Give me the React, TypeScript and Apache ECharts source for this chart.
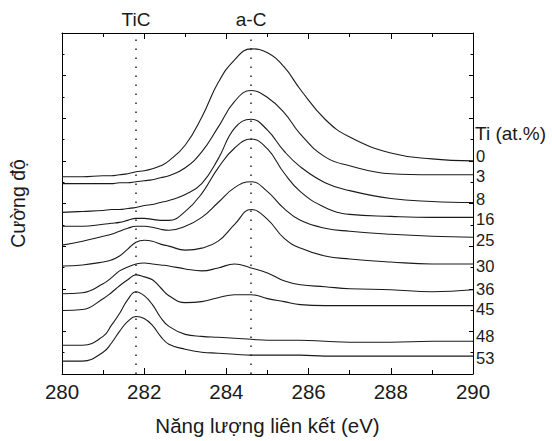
import React, { useEffect, useRef } from 'react';
import * as echarts from 'echarts';

// Binding energy grid (eV)
const energy = [280, 280.5, 281, 281.2, 281.4, 281.6, 281.8, 282.0, 282.2, 282.4, 282.6, 283, 283.4, 283.8, 284.2, 284.6, 285, 285.4, 285.8, 286.4, 287, 288, 289, 290];

// Ti content labels (at.%)
const tiLabels = ['0', '3', '8', '16', '25', '30', '36', '45', '48', '53'];

// Offset-stacked intensities (a.u.)
const ti0 = [199, 199, 200, 200, 201, 202, 204, 205, 207, 210, 215, 231, 259, 294, 317, 328, 324, 310, 287, 257, 239, 223, 217, 215];
const ti3 = [192, 192, 192, 192, 193, 193, 194, 195, 196, 198, 200, 208, 224, 249, 275, 286, 279, 264, 242, 219, 210, 202, 201, 201];
const ti8 = [163, 164, 165, 166, 166, 167, 168, 170, 171, 173, 175, 181, 192, 217, 248, 257, 246, 225, 209, 193, 185, 177, 174, 173];
const ti16 = [149, 149, 151, 152, 153, 155, 157, 157, 156, 155, 155, 164, 182, 208, 228, 237, 227, 203, 184, 168, 161, 159, 158, 158];
const ti25 = [130, 134, 139, 141, 144, 147, 149, 149, 148, 146, 145, 149, 158, 173, 188, 194, 184, 167, 155, 147, 144, 141, 139, 138];
const ti30 = [109, 110, 113, 115, 119, 126, 133, 135, 134, 131, 129, 125, 127, 134, 151, 166, 156, 137, 127, 119, 116, 113, 111, 111];
const ti36 = [81, 82, 91, 97, 104, 108, 111, 112, 111, 110, 109, 106, 104, 107, 111, 107, 102, 94, 90, 88, 86, 85, 83, 85];
const ti45 = [64, 65, 76, 82, 89, 95, 100, 98, 95, 87, 79, 72, 73, 77, 80, 80, 76, 73, 70, 69, 69, 69, 69, 69];
const ti48 = [29, 29, 38, 49, 61, 75, 83, 79, 70, 57, 48, 40, 38, 37, 36, 35, 34, 34, 34, 33, 32, 32, 33, 33];
const ti53 = [13, 13, 22, 31, 43, 53, 58, 56, 49, 38, 30, 25, 22, 21, 20, 19, 19, 19, 19, 18, 18, 18, 18, 18];

const curves = [ti0, ti3, ti8, ti16, ti25, ti30, ti36, ti45, ti48, ti53];

// Reference peak positions
const peakNames = ['TiC', 'a-C'];
const peakEnergies = [281.8, 284.6];

// small vertical nudges of the right-hand labels (px)
const labelNudge = [-4.5, 1.5, -4, 2, 3, 2, -1, 3, -5, 2];

export default function App() {
  const ref = useRef<HTMLDivElement>(null);
  useEffect(() => {
    document.body.style.margin = '0';
    const chart = echarts.init(ref.current!, null, { renderer: 'svg' });
    const font = '"Liberation Sans", Arial, sans-serif';
    const ink = '#1a1a1a';
    const axisCommon = {
      type: 'value' as const,
      axisLine: { show: true, onZero: false, lineStyle: { color: '#000', width: 1 } },
      splitLine: { show: false },
    };
    const series: any[] = curves.map((vals, i) => ({
      type: 'line',
      name: tiLabels[i],
      data: energy.map((e, j) => [e, vals[j]]),
      smooth: 0.45,
      symbol: 'none',
      silent: true,
      lineStyle: { color: ink, width: 1.1 },
      endLabel: {
        show: true,
        formatter: tiLabels[i],
        fontSize: 16.5,
        lineHeight: 14,
        color: ink,
        fontFamily: font,
        distance: 3,
        offset: [0, labelNudge[i]],
      },
      markLine:
        i === 0
          ? {
              symbol: 'none',
              silent: true,
              lineStyle: { type: [1.5, 7.5], color: '#222', width: 1.5 },
              label: {
                show: true,
                position: 'end',
                formatter: (p: any) => p.name,
                fontSize: 19,
                color: ink,
                fontFamily: font,
                distance: 4,
              },
              data: peakEnergies.map((x, k) => ({ xAxis: x, name: peakNames[k] })),
            }
          : undefined,
    }));

    chart.setOption({
      animation: false,
      grid: { left: 62, right: 79, top: 33, bottom: 64 },
      textStyle: { fontFamily: font },
      xAxis: [
        {
          ...axisCommon,
          position: 'bottom',
          min: 280,
          max: 290,
          interval: 2,
          axisTick: { show: true, inside: true, length: 6, lineStyle: { color: '#000' } },
          minorTick: { show: true, splitNumber: 2, length: 4, lineStyle: { color: '#000' } },
          axisLabel: { fontSize: 20.5, color: ink, margin: 7, fontFamily: font },
          name: 'Năng lượng liên kết (eV)',
          nameLocation: 'middle',
          nameGap: 41,
          nameTextStyle: { fontSize: 20.5, color: ink, fontFamily: font },
        },
        {
          ...axisCommon,
          position: 'top',
          min: 280,
          max: 290,
          interval: 2,
          axisTick: { show: true, inside: true, length: 6, lineStyle: { color: '#000' } },
          minorTick: { show: true, splitNumber: 2, length: 4, lineStyle: { color: '#000' } },
          axisLabel: { show: false },
        },
      ],
      yAxis: [
        {
          ...axisCommon,
          position: 'left',
          min: 0,
          max: 344,
          interval: 43,
          axisTick: { show: true, inside: true, length: 4, lineStyle: { color: '#000' } },
          minorTick: { show: true, splitNumber: 2, length: 2.5, lineStyle: { color: '#000' } },
          axisLabel: { show: false },
          name: 'Cường độ',
          nameLocation: 'middle',
          nameGap: 34,
          nameRotate: 90,
          nameTextStyle: { fontSize: 19.5, color: ink, fontFamily: font },
        },
        {
          ...axisCommon,
          position: 'right',
          min: 0,
          max: 344,
          interval: 43,
          axisTick: { show: true, inside: true, length: 4, lineStyle: { color: '#000' } },
          minorTick: { show: true, splitNumber: 2, length: 2.5, lineStyle: { color: '#000' } },
          axisLabel: { show: false },
        },
      ],
      graphic: [
        {
          type: 'text',
          left: 475,
          top: 124,
          style: { text: 'Ti (at.%)', fontSize: 19, fill: ink, fontFamily: font },
        },
      ],
      series,
    });
    return () => chart.dispose();
  }, []);
  return <div ref={ref} style={{ width: 552, height: 441 }} />;
}
